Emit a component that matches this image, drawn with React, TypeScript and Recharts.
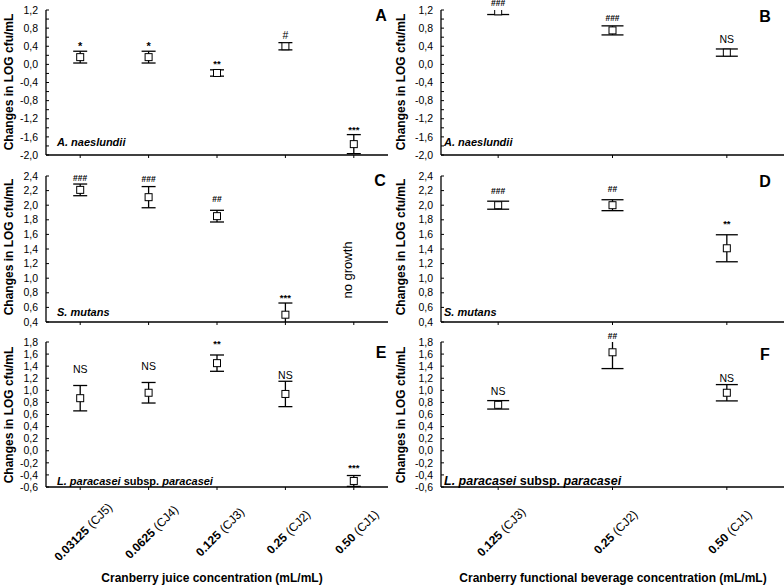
import { ComposedChart, Line, ErrorBar, XAxis, YAxis, ReferenceDot } from "recharts";

// categories
const juiceConc = ["0.03125", "0.0625", "0.125", "0.25", "0.50"];
const juiceCode = ["CJ5", "CJ4", "CJ3", "CJ2", "CJ1"];
const bevConc = ["0.125", "0.25", "0.50"];
const bevCode = ["CJ3", "CJ2", "CJ1"];

// A. naeslundii
const naesJuiceMean = [0.16, 0.16, -0.19, 0.4, -1.76];
const naesJuiceErr = [0.13, 0.13, 0.07, 0.08, 0.21];
const naesJuiceSig = ["*", "*", "**", "#", "***"];
const naesJuiceSigY = [0.46, 0.46, 0.07, 0.65, -1.4];

const naesBevMean = [1.17, 0.75, 0.26];
const naesBevErr = [0.07, 0.1, 0.08];
const naesBevSig = ["###", "###", "NS"];
const naesBevSigY = [1.36, 1.02, 0.56];

// S. mutans (CJ1 juice: no growth)
const mutJuiceMean = [2.21, 2.11, 1.85, 0.5, null];
const mutJuiceErr = [0.08, 0.145, 0.08, 0.16, null];
const mutJuiceSig = ["###", "###", "##", "***", ""];
const mutJuiceSigY = [2.37, 2.36, 2.08, 0.76, null];

const mutBevMean = [2.0, 2.0, 1.41];
const mutBevErr = [0.055, 0.075, 0.185];
const mutBevSig = ["###", "##", "**"];
const mutBevSigY = [2.19, 2.22, 1.78];

// L. paracasei subsp. paracasei
const parJuiceMean = [0.87, 0.96, 1.45, 0.94, -0.5];
const parJuiceErr = [0.21, 0.17, 0.135, 0.21, 0.09];
const parJuiceSig = ["NS", "NS", "**", "NS", "***"];
const parJuiceSigY = [1.35, 1.4, 1.81, 1.25, -0.25];

const parBevMean = [0.76, 1.63, 0.96];
const parBevErr = [0.07, 0.27, 0.135];
const parBevSig = ["NS", "##", "NS"];
const parBevSigY = [0.98, 1.9, 1.2];

// y ticks
const naesTicks = [-2, -1.8, -1.6, -1.4, -1.2, -1, -0.8, -0.6, -0.4, -0.2, 0, 0.2, 0.4, 0.6, 0.8, 1, 1.2];
const naesMajors = [-2, -1.6, -1.2, -0.8, -0.4, 0, 0.4, 0.8, 1.2];
const mutTicks = [0.4, 0.6, 0.8, 1, 1.2, 1.4, 1.6, 1.8, 2, 2.2, 2.4];
const parTicks = [-0.6, -0.4, -0.2, 0, 0.2, 0.4, 0.6, 0.8, 1, 1.2, 1.4, 1.6, 1.8];

const FONT = "'Liberation Sans', Arial, Helvetica, sans-serif";

const fmt = (v: number) => v.toFixed(1).replace(".", ",");

function sigStyle(s: string) {
  if (s === "NS") return { fs: 10.5, bold: false, c: 0.36 };
  if (s === "*") return { fs: 11, bold: true, c: 0.58 };
  if (s.startsWith("*")) return { fs: 9.5, bold: true, c: 0.58 };
  if (s === "#") return { fs: 10.5, bold: false, c: 0.36 };
  return { fs: 8.5, bold: true, c: 0.36 };
}

type PanelProps = {
  id: string;
  left: number;
  top: number;
  height: number;
  cats: string[];
  codes: string[];
  mean: (number | null)[];
  err: (number | null)[];
  sig: string[];
  sigY: (number | null)[];
  domain: [number, number];
  ticks: number[];
  majors: number[];
  yAxisWidth: number;
  marginTop: number;
  marginRight: number;
  xAxisHeight: number;
  capWidth: number;
  showXLabels: boolean;
};

function Panel(p: PanelProps) {
  const width = 392;
  const data = p.cats.map((c, i) => ({
    conc: c,
    code: p.codes[i],
    mean: p.mean[i],
    err: p.err[i],
    sig: p.sig[i],
    sigY: p.sigY[i],
  }));
  const plotW = width - p.yAxisWidth - p.marginRight;
  const plotH = p.height - p.marginTop - p.xAxisHeight;
  const pad = plotW / p.cats.length / 2;
  const clipId = `plot-clip-${p.id}`;

  const yTick = (t: any) => {
    const v = t.payload.value;
    const major = p.majors.some((m) => Math.abs(m - v) < 1e-6);
    return (
      <g>
        <line x1={t.x + 8} x2={t.x + 11} y1={t.y} y2={t.y} stroke="#000" strokeWidth={1} />
        {major && (
          <text x={t.x} y={t.y} dy="0.35em" textAnchor="end" fontSize={10.5} fill="#000">
            {fmt(v)}
          </text>
        )}
      </g>
    );
  };

  const xTick = (t: any) => {
    if (!p.showXLabels) return <g />;
    const code = p.codes[t.index];
    const cx = t.x + 3;
    const cy = t.y + 40;
    return (
      <text
        x={cx}
        y={cy}
        textAnchor="middle"
        dy="0.35em"
        fontSize={12}
        fill="#000"
        style={{ transform: "rotate(-45deg)", transformOrigin: `${cx}px ${cy}px`, transformBox: "view-box" }}
      >
        <tspan fontWeight="bold">{t.payload.value}</tspan>
        <tspan> ({code})</tspan>
      </text>
    );
  };

  const square = (d: any) => {
    if (d.cy == null || d.payload.mean == null) return <g key={d.index} />;
    return (
      <rect
        key={d.index}
        x={d.cx - 3.5}
        y={d.cy - 3.5}
        width={7}
        height={7}
        fill="#fff"
        stroke="#000"
        strokeWidth={1}
        clipPath={`url(#${clipId})`}
      />
    );
  };

  return (
    <div style={{ position: "absolute", left: p.left, top: p.top }}>
      <svg width={0} height={0} style={{ position: "absolute" }}>
        <defs>
          <clipPath id={clipId}>
            <rect x={0} y={p.marginTop} width={width} height={plotH} />
          </clipPath>
        </defs>
      </svg>
      <ComposedChart
        width={width}
        height={p.height}
        data={data}
        margin={{ top: p.marginTop, right: p.marginRight, bottom: 0, left: 0 }}
      >
        <XAxis
          dataKey="conc"
          type="category"
          interval={0}
          padding={{ left: pad, right: pad }}
          height={p.xAxisHeight}
          tickSize={3}
          tickMargin={2}
          tickLine={{ stroke: "#000", strokeWidth: 1 }}
          axisLine={{ stroke: "#000", strokeWidth: 1.3 }}
          tick={xTick}
        />
        <YAxis
          type="number"
          domain={p.domain}
          ticks={p.ticks}
          interval={0}
          allowDataOverflow
          width={p.yAxisWidth}
          tickSize={0}
          tickMargin={8}
          tickLine={false}
          axisLine={{ stroke: "#000", strokeWidth: 1.3 }}
          tick={yTick}
        />
        <Line
          dataKey="mean"
          stroke="none"
          isAnimationActive={false}
          dot={square}
          activeDot={false}
        >
          <ErrorBar
            dataKey="err"
            direction="y"
            width={p.capWidth}
            stroke="#000"
            strokeWidth={1.3}
            clipPath={`url(#${clipId})`}
          />
        </Line>
        {data
          .filter((d) => d.sigY != null && d.sig)
          .map((d, i) => {
            const s = sigStyle(d.sig);
            return (
              <ReferenceDot
                key={i}
                x={d.conc}
                y={d.sigY as number}
                r={0}
                ifOverflow="visible"
                shape={(sp: any) => (
                  <text
                    x={sp.cx}
                    y={sp.cy + s.c * s.fs}
                    textAnchor="middle"
                    fontSize={s.fs}
                    fontWeight={s.bold ? "bold" : "normal"}
                    fill="#000"
                  >
                    {d.sig}
                  </text>
                )}
              />
            );
          })}
      </ComposedChart>
    </div>
  );
}

const yTitle = "Changes in LOG cfu/mL";

export default function App() {
  return (
    <div
      style={{
        position: "absolute",
        left: 0,
        top: 0,
        width: 784,
        height: 587,
        background: "#fff",
        fontFamily: FONT,
        overflow: "hidden",
      }}
    >
      <Panel
        id="a" left={0} top={0} height={170}
        cats={juiceConc} codes={juiceCode}
        mean={naesJuiceMean} err={naesJuiceErr} sig={naesJuiceSig} sigY={naesJuiceSigY}
        domain={[-2, 1.2]} ticks={naesTicks} majors={naesMajors}
        yAxisWidth={46} marginTop={10} marginRight={4} xAxisHeight={15} capWidth={7}
        showXLabels={false}
      />
      <Panel
        id="b" left={392} top={0} height={170}
        cats={bevConc} codes={bevCode}
        mean={naesBevMean} err={naesBevErr} sig={naesBevSig} sigY={naesBevSigY}
        domain={[-2, 1.2]} ticks={naesTicks} majors={naesMajors}
        yAxisWidth={49} marginTop={10} marginRight={0} xAxisHeight={15} capWidth={11}
        showXLabels={false}
      />
      <Panel
        id="c" left={0} top={165} height={170}
        cats={juiceConc} codes={juiceCode}
        mean={mutJuiceMean} err={mutJuiceErr} sig={mutJuiceSig} sigY={mutJuiceSigY}
        domain={[0.4, 2.4]} ticks={mutTicks} majors={mutTicks}
        yAxisWidth={46} marginTop={11} marginRight={4} xAxisHeight={13} capWidth={7}
        showXLabels={false}
      />
      <Panel
        id="d" left={392} top={165} height={170}
        cats={bevConc} codes={bevCode}
        mean={mutBevMean} err={mutBevErr} sig={mutBevSig} sigY={mutBevSigY}
        domain={[0.4, 2.4]} ticks={mutTicks} majors={mutTicks}
        yAxisWidth={49} marginTop={11} marginRight={0} xAxisHeight={13} capWidth={11}
        showXLabels={false}
      />
      <Panel
        id="e" left={0} top={330} height={230}
        cats={juiceConc} codes={juiceCode}
        mean={parJuiceMean} err={parJuiceErr} sig={parJuiceSig} sigY={parJuiceSigY}
        domain={[-0.6, 1.8]} ticks={parTicks} majors={parTicks}
        yAxisWidth={46} marginTop={12} marginRight={4} xAxisHeight={73} capWidth={7}
        showXLabels={true}
      />
      <Panel
        id="f" left={392} top={330} height={230}
        cats={bevConc} codes={bevCode}
        mean={parBevMean} err={parBevErr} sig={parBevSig} sigY={parBevSigY}
        domain={[-0.6, 1.8]} ticks={parTicks} majors={parTicks}
        yAxisWidth={49} marginTop={12} marginRight={0} xAxisHeight={73} capWidth={11}
        showXLabels={true}
      />

      <svg
        width={784}
        height={587}
        style={{ position: "absolute", left: 0, top: 0, pointerEvents: "none" }}
      >
        {/* y titles */}
        {[
          [13, 82], [405, 82], [13, 247], [405, 247], [13, 415], [405, 415],
        ].map(([x, y], i) => (
          <text
            key={i}
            transform={`translate(${x},${y}) rotate(-90)`}
            textAnchor="middle"
            fontSize={12}
            fontWeight="bold"
            fill="#000"
          >
            {yTitle}
          </text>
        ))}

        {/* panel letters */}
        <g fontSize={16} fontWeight="bold" textAnchor="middle" fill="#000">
          <text x={381} y={21}>A</text>
          <text x={765} y={22}>B</text>
          <text x={380} y={186}>C</text>
          <text x={765} y={187}>D</text>
          <text x={381} y={358}>E</text>
          <text x={765} y={360}>F</text>
        </g>

        {/* species */}
        <g fontWeight="bold" fill="#000">
          <text x={57} y={146} fontSize={11} fontStyle="italic">A. naeslundii</text>
          <text x={444} y={146} fontSize={11} fontStyle="italic">A. naeslundii</text>
          <text x={57} y={316} fontSize={11} fontStyle="italic">S. mutans</text>
          <text x={444} y={316} fontSize={11} fontStyle="italic">S. mutans</text>
          <text x={57} y={485} fontSize={11}>
            <tspan fontStyle="italic">L. paracasei</tspan> subsp. <tspan fontStyle="italic">paracasei</tspan>
          </text>
          <text x={444} y={485} fontSize={12.5}>
            <tspan fontStyle="italic">L. paracasei</tspan> subsp. <tspan fontStyle="italic">paracasei</tspan>
          </text>
        </g>

        <text transform="translate(352,270) rotate(-90)" textAnchor="middle" fontSize={13} fill="#000">
          no growth
        </text>

        {/* x titles */}
        <text x={212} y={582} textAnchor="middle" fontSize={12} fontWeight="bold" fill="#000">
          Cranberry juice concentration (mL/mL)
        </text>
        <text x={613} y={582} textAnchor="middle" fontSize={12} fontWeight="bold" fill="#000">
          Cranberry functional beverage concentration (mL/mL)
        </text>
      </svg>
    </div>
  );
}
